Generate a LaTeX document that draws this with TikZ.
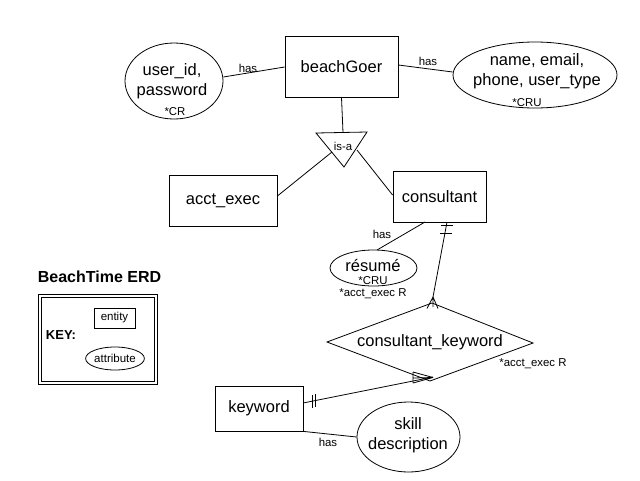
\documentclass[tikz,border=0pt]{standalone}
\usepackage{fontspec}
\setmainfont{Liberation Sans}
\usetikzlibrary{shapes.geometric,calc}
\begin{document}
\begin{tikzpicture}[x=1pt,y=-1pt,line width=0.8pt,
  entity/.style={draw,rectangle,inner sep=0pt,font=\fontsize{16.5}{19}\selectfont},
  attr/.style={draw,ellipse,inner sep=0pt},
  big/.style={font=\fontsize{16.5}{20}\selectfont,align=center,inner sep=0pt},
  lbl/.style={font=\fontsize{11.4}{13}\selectfont,inner sep=0pt}]
\useasboundingbox (0,0) rectangle (640,480);
% entities
\node[entity,minimum width=113,minimum height=61] (bg) at (341.5,66.5) {beachGoer};
\node[entity,minimum width=108,minimum height=51] (ae) at (223,200.5) {acct\_exec};
\node[entity,minimum width=93,minimum height=51] (co) at (439.5,196.5) {consultant};
\node[entity,minimum width=88,minimum height=45] (kw) at (259,408.5) {keyword};
% attributes
\node[attr,minimum width=98,minimum height=76] (uid) at (174,81) {};
\node[big] (uidt) at (172,81) {user\_id,\\password};
\node[lbl] (cr) at (175,112) {*CR};
\node[attr,minimum width=164,minimum height=66] (nm) at (535,75) {};
\node[big] (nmt) at (537,71) {name, email,\\phone, user\_type};
\node[lbl] (cru1) at (527,103) {*CRU};
\node[attr,minimum width=87,minimum height=36] (res) at (373.5,268) {};
\node[big] (rest) at (373,266) {résumé};
\node[lbl] (cru2) at (373,280.5) {*CRU};
\node[lbl] (ae2) at (373,293.5) {*acct\_exec R};
\node[attr,minimum width=103,minimum height=70] (sk) at (408.5,437) {};
\node[big] (skt) at (408,435) {skill\\description};
% is-a triangle
\coordinate (t1) at (316,133);
\coordinate (t2) at (367,132);
\coordinate (t3) at (344,167);
\draw (t1) -- (t2) -- (t3) -- cycle;
\node[lbl] (isa) at (343,146) {is-a};
% diamond
\coordinate (dl) at (327,342);
\coordinate (dt) at (432,303);
\coordinate (dr) at (533,343);
\coordinate (db) at (430,381);
\draw (dl) -- (dt) -- (dr) -- (db) -- cycle;
\node[big] (ck) at (430,342) {consultant\_keyword};
\node[lbl] (ae3) at (533,364) {*acct\_exec R};
% connectors
\draw (bg.west |- 0,67) -- (uid.east |- 0,77);
\node[lbl] (h1) at (248,68) {has};
\draw (bg.east |- 0,65) -- (nm.west |- 0,72);
\node[lbl] (h2) at (428,61) {has};
\draw (bg.south) -- (343,132.5);
\draw (332,152) -- (ae.east |- 0,196);
\draw (357,150) -- (co.west |- 0,195);
% consultant - resume
\draw (425,222) -- (377,250);
\node[lbl] (h3) at (382,234) {has};
% consultant - diamond
\coordinate (c1) at (447,222);
\coordinate (c2) at (433,297);
\draw (c1) -- (c2);
\draw (441,225.5) -- (453,225.5);
\draw (440,233) -- (452,233);
\draw (433,297) -- (427,308.5) (433,297) -- (438,308.5) (433,297) -- (433,307);
% keyword - diamond
\coordinate (k1) at (303,403);
\coordinate (k2) at (433,377);
\draw (k1) -- (k2);
\draw (312,395) -- (312,408);
\draw (315.5,394) -- (315.5,407);
\draw (413,372) -- (413,383) (413,372) -- (433,377.5) (413,383) -- (433,377.5) (413,378) -- (433,377.5);
% keyword - skill
\draw (kw.south east) -- (sk.west |- 0,437);
\node[lbl] (h4) at (328,442) {has};
% key
\node[font=\bfseries\fontsize{16}{18}\selectfont] (title) at (99.5,277) {BeachTime ERD};
\draw (38,294) rectangle (157,384);
\draw (41,297) rectangle (154,381);
\node[font=\bfseries\fontsize{13}{15}\selectfont] (key) at (61,335) {KEY:};
\node[draw,rectangle,inner sep=0pt,minimum width=41,minimum height=20,font=\fontsize{11.5}{13}\selectfont] (ke) at (114.5,318) {entity};
\node[draw,ellipse,inner sep=0pt,minimum width=54,minimum height=23,font=\fontsize{11.5}{13}\selectfont] (ka) at (115,358.5) {attribute};
\end{tikzpicture}
\end{document}
